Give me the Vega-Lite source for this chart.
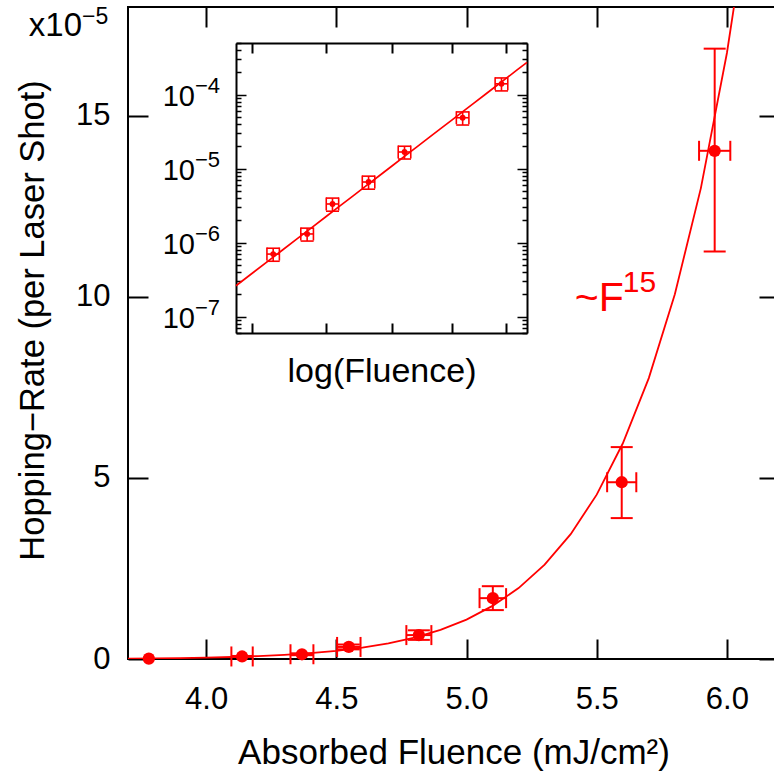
{
  "$schema": "https://vega.github.io/schema/vega-lite/v6.json",
  "width": 651,
  "height": 652,
  "autosize": {"type": "none"},
  "padding": {"left": 128, "top": 7, "right": 0, "bottom": 115},
  "background": "white",
  "config": {
    "font": "Liberation Sans",
    "view": {"stroke": "black", "strokeWidth": 2},
    "axis": {"labelFont": "Liberation Sans", "titleFont": "Liberation Sans", "labelColor": "black", "titleColor": "black", "tickColor": "black", "domainColor": "black", "grid": false, "titleFontWeight": "normal", "labelFlush": false, "labelOverlap": false}
  },
  "datasets": {
    "pts": [
      {"F": 3.78, "rate": 0.0000001},
      {"F": 4.138, "rate": 0.0000007},
      {"F": 4.368, "rate": 0.00000131},
      {"F": 4.548, "rate": 0.00000333},
      {"F": 4.817, "rate": 0.0000066},
      {"F": 5.101, "rate": 0.0000168},
      {"F": 5.596, "rate": 0.0000488},
      {"F": 5.953, "rate": 0.0001403}
    ],
    "err": [
      {"F": 4.138, "rate": 0.0000007, "Flo": 4.097, "Fhi": 4.179, "rlo": 0.00000056, "rhi": 0.00000084},
      {"F": 4.368, "rate": 0.00000131, "Flo": 4.324, "Fhi": 4.412, "rlo": 0.00000105, "rhi": 0.00000157},
      {"F": 4.548, "rate": 0.00000333, "Flo": 4.503, "Fhi": 4.593, "rlo": 0.00000266, "rhi": 0.000004},
      {"F": 4.817, "rate": 0.0000066, "Flo": 4.769, "Fhi": 4.865, "rlo": 0.00000528, "rhi": 0.00000792},
      {"F": 5.101, "rate": 0.0000168, "Flo": 5.05, "Fhi": 5.152, "rlo": 0.0000135, "rhi": 0.0000201},
      {"F": 5.596, "rate": 0.0000488, "Flo": 5.54, "Fhi": 5.652, "rlo": 0.0000389, "rhi": 0.0000585},
      {"F": 5.953, "rate": 0.0001403, "Flo": 5.893, "Fhi": 6.013, "rlo": 0.0001125, "rhi": 0.0001685}
    ],
    "fit": [
      {"F": 3.7, "rate": 1.19e-7},
      {"F": 3.8, "rate": 1.771e-7},
      {"F": 3.9, "rate": 2.615e-7},
      {"F": 4.0, "rate": 3.821e-7},
      {"F": 4.1, "rate": 5.538e-7},
      {"F": 4.2, "rate": 7.945e-7},
      {"F": 4.3, "rate": 1.1307e-6},
      {"F": 4.4, "rate": 1.5967e-6},
      {"F": 4.5, "rate": 2.2364e-6},
      {"F": 4.6, "rate": 3.111e-6},
      {"F": 4.7, "rate": 4.293e-6},
      {"F": 4.8, "rate": 5.888e-6},
      {"F": 4.9, "rate": 8.03e-6},
      {"F": 5.0, "rate": 1.087e-5},
      {"F": 5.1, "rate": 1.467e-5},
      {"F": 5.2, "rate": 1.957e-5},
      {"F": 5.3, "rate": 2.605e-5},
      {"F": 5.4, "rate": 3.446e-5},
      {"F": 5.5, "rate": 4.537e-5},
      {"F": 5.6, "rate": 5.949e-5},
      {"F": 5.7, "rate": 7.755e-5},
      {"F": 5.8, "rate": 1.007e-4},
      {"F": 5.9, "rate": 1.3e-4},
      {"F": 6.0, "rate": 1.673e-4},
      {"F": 6.1, "rate": 2.144e-4},
      {"F": 6.2, "rate": 2.737e-4}
    ],
    "dec": [
      {"v": 1e-4, "base": "10", "e": "−4"},
      {"v": 1e-5, "base": "10", "e": "−5"},
      {"v": 1e-6, "base": "10", "e": "−6"},
      {"v": 1e-7, "base": "10", "e": "−7"}
    ]
  },
  "layer": [
    {
      "layer": [
        {
          "data": {"name": "fit"},
          "mark": {"type": "line", "color": "#ff0000", "strokeWidth": 1.8, "clip": true},
          "encoding": {
            "x": {"field": "F", "type": "quantitative", "scale": {"domain": [3.7, 6.2], "nice": false, "zero": false},
              "axis": {"orient": "bottom", "values": [4, 4.5, 5, 5.5, 6], "format": ".1f", "labelFontSize": 31, "tickSize": -20, "tickWidth": 2, "labelPadding": 45, "domain": false, "title": "Absorbed Fluence (mJ/cm²)", "titleFontSize": 35, "titleY": 104, "titleBaseline": "alphabetic"}},
            "y": {"field": "rate", "type": "quantitative", "scale": {"domain": [0, 0.00018], "nice": false, "zero": false},
              "axis": {"orient": "left", "values": [0, 0.00005, 0.0001, 0.00015], "labelExpr": "format(round(datum.value*100000),'d')", "labelFontSize": 31, "tickSize": -20, "tickWidth": 2, "labelPadding": 38, "domain": false, "title": "Hopping−Rate (per Laser Shot)", "titleFontSize": 34.5, "titleAngle": 270, "titleX": -85, "titleY": 313, "titleAlign": "center", "titleBaseline": "alphabetic"}}
          }
        },
        {
          "data": {"name": "err"},
          "mark": {"type": "rule", "color": "#ff0000", "strokeWidth": 2},
          "encoding": {"x": {"field": "Flo", "type": "quantitative"}, "x2": {"field": "Fhi"}, "y": {"field": "rate", "type": "quantitative"}}
        },
        {
          "data": {"name": "err"},
          "mark": {"type": "rule", "color": "#ff0000", "strokeWidth": 2},
          "encoding": {"x": {"field": "F", "type": "quantitative"}, "y": {"field": "rlo", "type": "quantitative"}, "y2": {"field": "rhi"}}
        },
        {
          "data": {"name": "err"},
          "mark": {"type": "tick", "orient": "vertical", "color": "#ff0000", "size": 20, "thickness": 2, "opacity": 1},
          "encoding": {"x": {"field": "Flo", "type": "quantitative"}, "y": {"field": "rate", "type": "quantitative"}}
        },
        {
          "data": {"name": "err"},
          "mark": {"type": "tick", "orient": "vertical", "color": "#ff0000", "size": 20, "thickness": 2, "opacity": 1},
          "encoding": {"x": {"field": "Fhi", "type": "quantitative"}, "y": {"field": "rate", "type": "quantitative"}}
        },
        {
          "data": {"name": "err"},
          "mark": {"type": "tick", "orient": "horizontal", "color": "#ff0000", "size": 22, "thickness": 2, "opacity": 1},
          "encoding": {"x": {"field": "F", "type": "quantitative"}, "y": {"field": "rlo", "type": "quantitative"}}
        },
        {
          "data": {"name": "err"},
          "mark": {"type": "tick", "orient": "horizontal", "color": "#ff0000", "size": 22, "thickness": 2, "opacity": 1},
          "encoding": {"x": {"field": "F", "type": "quantitative"}, "y": {"field": "rhi", "type": "quantitative"}}
        },
        {
          "data": {"name": "pts"},
          "mark": {"type": "point", "shape": "circle", "filled": true, "size": 150, "color": "#ff0000", "opacity": 1},
          "encoding": {"x": {"field": "F", "type": "quantitative"}, "y": {"field": "rate", "type": "quantitative"}}
        },
        {
          "data": {"values": [{"t": "x10"}]},
          "mark": {"type": "text", "align": "right", "baseline": "alphabetic", "fontSize": 33, "color": "black"},
          "encoding": {"x": {"datum": 3.5234, "type": "quantitative"}, "y": {"datum": 0.000172, "type": "quantitative"}, "text": {"field": "t"}}
        },
        {
          "data": {"values": [{"t": "−5"}]},
          "mark": {"type": "text", "align": "left", "baseline": "alphabetic", "fontSize": 23, "color": "black"},
          "encoding": {"x": {"datum": 3.5234, "type": "quantitative"}, "y": {"datum": 0.0001753, "type": "quantitative"}, "text": {"field": "t"}}
        },
        {
          "data": {"values": [{"t": "~F"}]},
          "mark": {"type": "text", "align": "left", "baseline": "alphabetic", "fontSize": 41, "color": "#ff0000"},
          "encoding": {"x": {"datum": 5.416, "type": "quantitative"}, "y": {"datum": 0.0000962, "type": "quantitative"}, "text": {"field": "t"}}
        },
        {
          "data": {"values": [{"t": "15"}]},
          "mark": {"type": "text", "align": "left", "baseline": "alphabetic", "fontSize": 30, "color": "#ff0000"},
          "encoding": {"x": {"datum": 5.6, "type": "quantitative"}, "y": {"datum": 0.0001012, "type": "quantitative"}, "text": {"field": "t"}}
        }
      ]
    },
    {
      "data": {"name": "pts"},
      "mark": {"type": "point", "opacity": 0},
      "encoding": {
        "x": {"field": "F", "type": "quantitative", "scale": {"domain": [3.7, 6.2], "nice": false, "zero": false},
          "axis": {"orient": "top", "values": [4, 4.5, 5, 5.5, 6], "labels": false, "tickSize": -20, "tickWidth": 2, "domain": false, "title": null}},
        "y": {"field": "rate", "type": "quantitative", "scale": {"domain": [0, 0.00018], "nice": false, "zero": false},
          "axis": {"orient": "right", "values": [0, 0.00005, 0.0001, 0.00015], "labels": false, "tickSize": -20, "tickWidth": 2, "domain": false, "title": null}}
      }
    },
    {
      "layer": [
        {
          "data": {"name": "fit"},
          "transform": [{"filter": "datum.F >= 3.9"}],
          "mark": {"type": "line", "color": "#ff0000", "strokeWidth": 1.7},
          "encoding": {
            "x": {"field": "F", "type": "quantitative", "scale": {"type": "log", "domain": [3.9, 6.2], "range": [108, 399], "nice": false},
              "axis": {"orient": "bottom", "offset": -326, "values": [4, 4.5, 5, 5.5, 6], "labels": false, "tickSize": -10, "tickWidth": 2, "domain": true, "domainWidth": 2, "title": "log(Fluence)", "titleFontSize": 34, "titleY": 48, "titleBaseline": "alphabetic"}},
            "y": {"field": "rate", "type": "quantitative", "scale": {"type": "log", "domain": [6e-8, 5e-4], "range": [326, 36], "nice": false},
              "axis": {"orient": "left", "offset": -108, "values": [6e-8, 7e-8, 8e-8, 9e-8, 1e-7, 2e-7, 3e-7, 4e-7, 5e-7, 6e-7, 7e-7, 8e-7, 9e-7, 1e-6, 2e-6, 3e-6, 4e-6, 5e-6, 6e-6, 7e-6, 8e-6, 9e-6, 1e-5, 2e-5, 3e-5, 4e-5, 5e-5, 6e-5, 7e-5, 8e-5, 9e-5, 1e-4, 2e-4, 3e-4, 4e-4, 5e-4], "labels": false, "tickSize": {"condition": {"test": "abs(log(datum.value)/LN10 - round(log(datum.value)/LN10)) < 0.001", "value": -10}, "value": -5}, "tickWidth": 1.5, "domain": true, "domainWidth": 2, "title": null}}
          }
        },
        {
          "data": {"name": "err"},
          "mark": {"type": "rule", "color": "#ff0000", "strokeWidth": 1.6},
          "encoding": {"x": {"field": "Flo", "type": "quantitative"}, "x2": {"field": "Fhi"}, "y": {"field": "rate", "type": "quantitative"}}
        },
        {
          "data": {"name": "err"},
          "mark": {"type": "rule", "color": "#ff0000", "strokeWidth": 1.6},
          "encoding": {"x": {"field": "F", "type": "quantitative"}, "y": {"field": "rlo", "type": "quantitative"}, "y2": {"field": "rhi"}}
        },
        {
          "data": {"name": "err"},
          "mark": {"type": "tick", "orient": "vertical", "color": "#ff0000", "size": 13, "thickness": 1.6, "opacity": 1},
          "encoding": {"x": {"field": "Flo", "type": "quantitative"}, "y": {"field": "rate", "type": "quantitative"}}
        },
        {
          "data": {"name": "err"},
          "mark": {"type": "tick", "orient": "vertical", "color": "#ff0000", "size": 13, "thickness": 1.6, "opacity": 1},
          "encoding": {"x": {"field": "Fhi", "type": "quantitative"}, "y": {"field": "rate", "type": "quantitative"}}
        },
        {
          "data": {"name": "err"},
          "mark": {"type": "tick", "orient": "horizontal", "color": "#ff0000", "size": 13, "thickness": 1.6, "opacity": 1},
          "encoding": {"x": {"field": "F", "type": "quantitative"}, "y": {"field": "rlo", "type": "quantitative"}}
        },
        {
          "data": {"name": "err"},
          "mark": {"type": "tick", "orient": "horizontal", "color": "#ff0000", "size": 13, "thickness": 1.6, "opacity": 1},
          "encoding": {"x": {"field": "F", "type": "quantitative"}, "y": {"field": "rhi", "type": "quantitative"}}
        },
        {
          "data": {"name": "err"},
          "mark": {"type": "point", "shape": "circle", "filled": true, "size": 34, "color": "#ff0000", "opacity": 1},
          "encoding": {"x": {"field": "F", "type": "quantitative"}, "y": {"field": "rate", "type": "quantitative"}}
        },
        {
          "data": {"name": "dec"},
          "mark": {"type": "text", "align": "right", "baseline": "alphabetic", "fontSize": 29, "dx": -41, "dy": 11, "color": "black"},
          "encoding": {"x": {"datum": 3.9, "type": "quantitative"}, "y": {"field": "v", "type": "quantitative"}, "text": {"field": "base"}}
        },
        {
          "data": {"name": "dec"},
          "mark": {"type": "text", "align": "left", "baseline": "alphabetic", "fontSize": 22, "dx": -41, "dy": -2, "color": "black"},
          "encoding": {"x": {"datum": 3.9, "type": "quantitative"}, "y": {"field": "v", "type": "quantitative"}, "text": {"field": "e"}}
        }
      ]
    },
    {
      "data": {"name": "err"},
      "mark": {"type": "point", "opacity": 0},
      "encoding": {
        "x": {"field": "F", "type": "quantitative", "scale": {"type": "log", "domain": [3.9, 6.2], "range": [108, 399], "nice": false},
          "axis": {"orient": "top", "offset": -36, "values": [4, 4.5, 5, 5.5, 6], "labels": false, "tickSize": -10, "tickWidth": 2, "domain": true, "domainWidth": 2, "title": null}},
        "y": {"field": "rate", "type": "quantitative", "scale": {"type": "log", "domain": [6e-8, 5e-4], "range": [326, 36], "nice": false},
          "axis": {"orient": "right", "offset": -252, "values": [6e-8, 7e-8, 8e-8, 9e-8, 1e-7, 2e-7, 3e-7, 4e-7, 5e-7, 6e-7, 7e-7, 8e-7, 9e-7, 1e-6, 2e-6, 3e-6, 4e-6, 5e-6, 6e-6, 7e-6, 8e-6, 9e-6, 1e-5, 2e-5, 3e-5, 4e-5, 5e-5, 6e-5, 7e-5, 8e-5, 9e-5, 1e-4, 2e-4, 3e-4, 4e-4, 5e-4], "labels": false, "tickSize": {"condition": {"test": "abs(log(datum.value)/LN10 - round(log(datum.value)/LN10)) < 0.001", "value": -10}, "value": -5}, "tickWidth": 1.5, "domain": true, "domainWidth": 2, "title": null}}
      }
    }
  ],
  "resolve": {"scale": {"x": "independent", "y": "independent"}}
}
